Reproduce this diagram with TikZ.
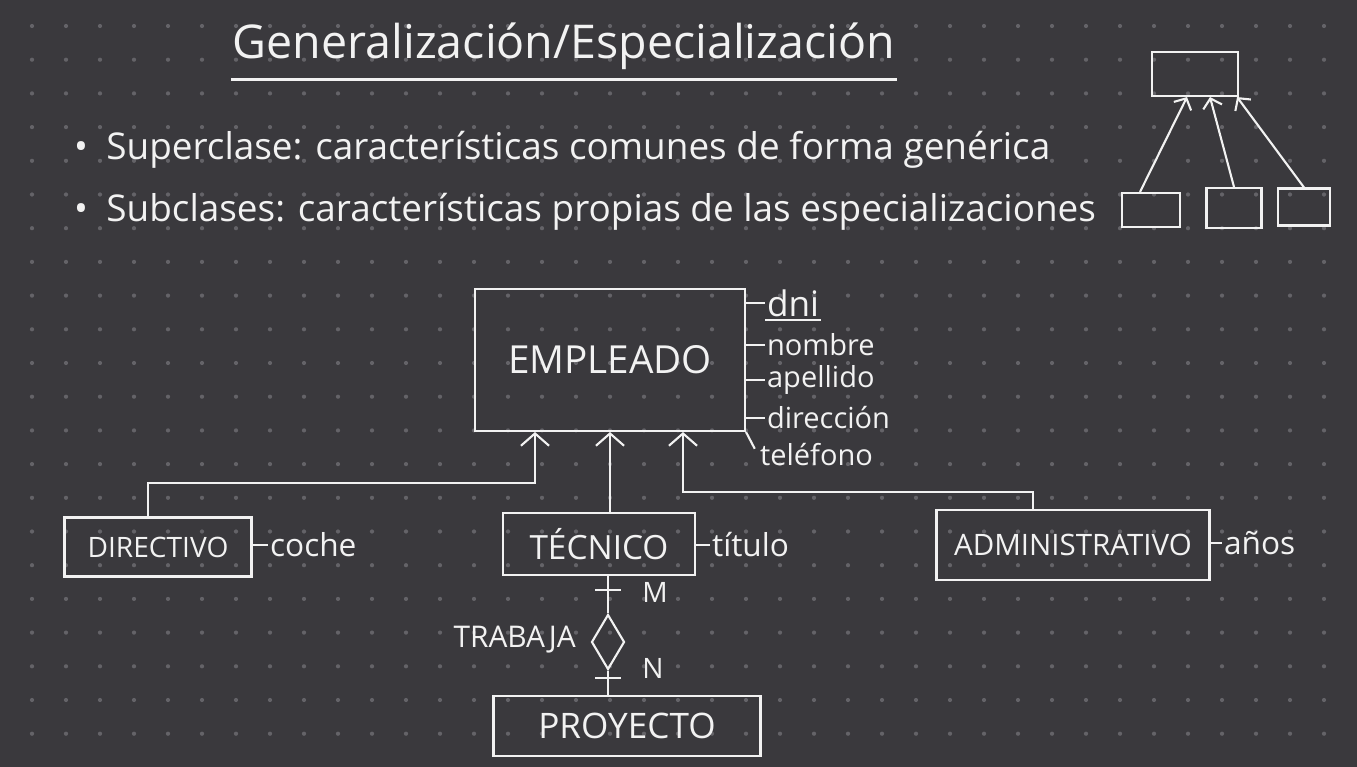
\documentclass[tikz,border=0pt]{standalone}
\usepackage{fontspec}
\setmainfont{Open Sans}
\usetikzlibrary{positioning, arrows.meta, shapes.geometric}
\definecolor{boardbg}{RGB}{58,57,61}
\definecolor{boarddot}{RGB}{100,99,104}
\definecolor{chalk}{RGB}{242,242,242}

\begin{document}
\begin{tikzpicture}[
  x=0.02cm, y=-0.02cm,
  every node/.style={text=chalk, inner sep=1pt},
  entity/.style={rectangle, draw=chalk, line width=1.2pt, align=center, font=\fontsize{16}{19}\selectfont},
  minibox/.style={rectangle, draw=chalk, line width=1.2pt},
  attr/.style={anchor=west, font=\fontsize{16.5}{19}\selectfont},
  rel/.style={diamond, draw=chalk, line width=1.2pt, minimum width=0.66cm, minimum height=1.1cm, inner sep=0pt},
  card/.style={font=\fontsize{16}{18}\selectfont},
  link/.style={draw=chalk, line width=1.2pt},
  arrow/.style={link, -{Straight Barb[length=7pt, width=16pt]}},
  smallarrow/.style={link, -{Straight Barb[length=5pt, width=11pt]}}
]

  % Board
  \fill[boardbg] (0,0) rectangle (1357,767);
  \useasboundingbox (0,0) rectangle (1357,767);
  \foreach \gx in {0,...,38}
    \foreach \gy in {0,...,21}
      \fill[boarddot] (32+34*\gx, 26+33.7*\gy) circle (1.2pt);

  % Heading and bullets
  \node[font=\fontsize{26.5}{30}\selectfont, minimum width=13.16cm] (title) at (564,46) {Generalización/Especialización};
  \draw[link] ([yshift=-0.16cm]title.south west) -- ([yshift=-0.16cm]title.south east);
  \node[anchor=west, font=\fontsize{21}{25}\selectfont] (superclase) at (72,150) {\textbullet\enspace Superclase: características comunes de forma genérica};
  \node[anchor=west, font=\fontsize{21}{25}\selectfont] (subclases) at (72,212) {\textbullet\enspace Subclases: características propias de las especializaciones};

  % Small sketch, top right
  \node[minibox, minimum width=1.72cm, minimum height=0.88cm] (minisuper) at (1195,74) {};
  \node[minibox, minimum width=1.16cm, minimum height=0.68cm] (minisub1) at (1151,210) {};
  \node[minibox, minimum width=1.1cm, minimum height=0.8cm] (minisub2) at (1234,208) {};
  \node[minibox, minimum width=1.04cm, minimum height=0.74cm] (minisub3) at (1304,207) {};
  \draw[smallarrow] ([xshift=-0.22cm]minisub1.north) -- ([xshift=-0.16cm]minisuper.south);
  \draw[smallarrow] (minisub2.north) -- ([xshift=0.3cm]minisuper.south);
  \draw[smallarrow] (minisub3.north) -- ([xshift=-0.04cm]minisuper.south east);

  % Superclass and its attributes
  \node[entity, minimum width=5.4cm, minimum height=2.84cm, font=\fontsize{22}{26}\selectfont] (empleado) at (610,360) {EMPLEADO};
  \node[attr, font=\fontsize{20}{23}\selectfont] (dni) at (765,303) {dni};
  \node[attr] (nombre) at (765,345) {nombre};
  \node[attr] (apellido) at (765,380) {apellido};
  \node[attr] (direccion) at (765,418) {dirección};
  \node[attr] (telefono) at (758,455) {teléfono};
  \draw[link] ([yshift=-1pt]dni.south west) -- ([yshift=-1pt]dni.south east);
  \foreach \a in {dni, nombre, apellido, direccion}
    \draw[link] (empleado.east |- \a.west) -- (\a.west);
  \draw[link, shorten >=4pt] (empleado.south east) -- (telefono.west);

  % Subclasses
  \node[entity, minimum width=3.74cm, minimum height=1.18cm] (directivo) at (158,547) {DIRECTIVO};
  \node[entity, minimum width=3.84cm, minimum height=1.24cm, font=\fontsize{19}{22}\selectfont] (tecnico) at (599,544) {TÉCNICO};
  \node[entity, minimum width=5.46cm, minimum height=1.4cm, font=\fontsize{16.8}{20}\selectfont] (administrativo) at (1073,545) {ADMINISTRATIVO};
  \node[attr, font=\fontsize{18}{21}\selectfont] (coche) at (268,545) {coche};
  \node[attr, font=\fontsize{18}{21}\selectfont] (titulo) at (710,545) {título};
  \node[attr, font=\fontsize{18}{21}\selectfont] (anos) at (1222,543) {años};
  \draw[link] (directivo.east |- coche.west) -- (coche.west);
  \draw[link] (tecnico.east |- titulo.west) -- (titulo.west);
  \draw[link] (administrativo.east |- anos.west) -- (anos.west);

  % Specialisation arrows
  \coordinate (dirjoin) at (535,483);
  \coordinate (admjoin) at (683,492);
  \draw[arrow] ([xshift=-0.2cm]directivo.north) |- (dirjoin) -- (dirjoin |- empleado.south);
  \draw[arrow] ([xshift=0.22cm]tecnico.north) -- ([xshift=0.22cm]tecnico.north |- empleado.south);
  \draw[arrow] ([xshift=-0.8cm]administrativo.north) |- (admjoin) -- (admjoin |- empleado.south);

  % Relationship TRABAJA
  \node[rel] (trabaja) at (608,642) {};
  \node[anchor=east, font=\fontsize{17}{20}\selectfont] (trabajalbl) at (578,640) {TRABAJA};
  \node[entity, minimum width=5.34cm, minimum height=1.2cm, font=\fontsize{20}{23}\selectfont] (proyecto) at (627,726) {PROYECTO};
  \draw[link] (trabaja.north |- tecnico.south) -- (trabaja.north);
  \draw[link] (trabaja.south) -- (trabaja.south |- proyecto.north);
  \coordinate (mtick) at (608,590);
  \coordinate (ntick) at (608,678);
  \draw[link] ([xshift=-0.26cm]mtick) -- ([xshift=0.26cm]mtick);
  \draw[link] ([xshift=-0.26cm]ntick) -- ([xshift=0.26cm]ntick);
  \node[card] (mcard) at (655,592) {M};
  \node[card] (ncard) at (653,668) {N};

\end{tikzpicture}
\end{document}
